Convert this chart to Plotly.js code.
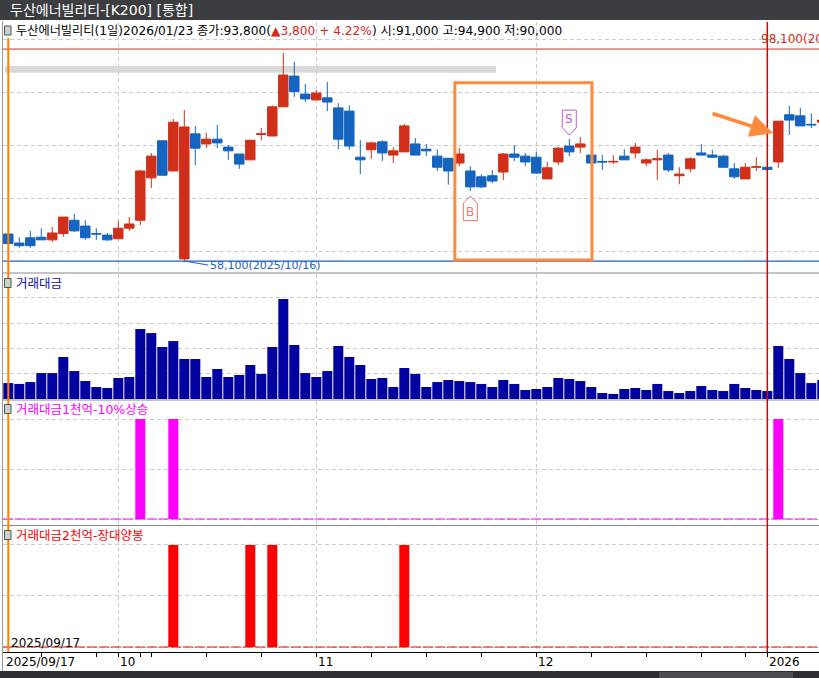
<!DOCTYPE html>
<html><head><meta charset="utf-8">
<script src="https://cdn.plot.ly/plotly-3.0.1.min.js"></script>
<style>html,body{margin:0;padding:0;background:#fff;overflow:hidden}#chart{width:819px;height:678px}</style>
</head><body><div id="chart"></div>
<script>
// ---- data ----
const dates = ['2025-09-17','2025-09-18','2025-09-19','2025-09-22','2025-09-23','2025-09-24','2025-09-25','2025-09-26','2025-09-29','2025-09-30',
'2025-10-01','2025-10-02','2025-10-10','2025-10-13','2025-10-14','2025-10-15','2025-10-16','2025-10-17','2025-10-20','2025-10-21',
'2025-10-22','2025-10-23','2025-10-24','2025-10-27','2025-10-28','2025-10-29','2025-10-30','2025-10-31','2025-11-03','2025-11-04',
'2025-11-05','2025-11-06','2025-11-07','2025-11-10','2025-11-11','2025-11-12','2025-11-13','2025-11-14','2025-11-17','2025-11-18',
'2025-11-19','2025-11-20','2025-11-21','2025-11-24','2025-11-25','2025-11-26','2025-11-27','2025-11-28','2025-12-01','2025-12-02',
'2025-12-03','2025-12-04','2025-12-05','2025-12-08','2025-12-09','2025-12-10','2025-12-11','2025-12-12','2025-12-15','2025-12-16',
'2025-12-17','2025-12-18','2025-12-19','2025-12-22','2025-12-23','2025-12-24','2025-12-26','2025-12-29','2025-12-30','2026-01-02',
'2026-01-05','2026-01-06','2026-01-07','2026-01-08','2026-01-09'];
const openP  = [63200,61500,62500,62600,62100,63300,65800,64700,63300,63000,62300,64300,65800,73800,80800,75100,58500,82100,80200,81100,
79600,78300,77200,82000,81700,87200,93000,89600,88500,88900,87000,86400,77700,79100,80600,78100,78700,80200,79200,77900,
77500,76600,75100,74000,74200,74900,78300,77900,77700,73600,76800,79800,79600,78100,76900,76800,77900,78500,76600,77200,
78100,74200,75500,78500,78100,77900,75500,73600,75800,75800,76800,85700,85500,83900,84300];
const highP  = [63200,62600,63800,64300,64500,66400,67000,65800,64300,63400,65700,66400,75300,78500,80800,84900,86600,83600,82300,83800,
80000,78300,80900,83200,87500,97400,95700,91500,90400,91900,87900,87500,80900,80600,80900,79600,84000,81300,80200,79200,
77500,79400,76000,74500,75300,78500,80000,78500,78700,76800,79600,81100,81500,78100,78100,78100,79200,80400,77500,79100,
78500,75800,77700,80200,79100,78100,76600,76600,77700,75800,84500,87400,87000,86000,84700];
const lowP   = [61400,60600,60600,62100,61700,62700,63600,62100,62100,61900,62300,63800,64900,71900,74300,75100,58100,76200,79400,79400,
77200,75500,77200,80900,81700,87200,89100,88100,88500,86400,79200,79100,74500,77400,77000,76600,78700,78100,77900,75100,
72500,76000,71300,71900,72800,73400,77000,76000,74500,73600,76200,77900,78500,76600,75300,76400,77200,77500,76000,73400,
74900,72600,74900,78100,77500,75800,73600,73600,75100,75400,75700,81900,83600,83200,84300];
const closeP = [61400,61000,61000,62100,63400,66400,63800,62500,63200,62100,64300,65100,75100,77900,74300,84300,83400,79400,81100,80400,
78900,76400,80900,82100,87200,93200,90100,88700,89800,88100,81100,79800,77200,80400,78500,78900,83600,78100,78900,75800,
75100,78300,72100,72100,73200,78300,77700,76800,74700,75700,79400,78700,80200,76600,76800,76900,77200,79600,77200,77400,
75300,74500,77400,78100,77700,75800,74000,75800,75900,75400,84500,84700,83600,83800,84700];
// 거래대금 (억원)
const tradeValue = [1260,1190,1340,2050,2050,3320,2210,1420,950,870,1660,1740,5530,5210,4110,4580,3160,3160,1740,2370,
1740,1900,2690,1980,4110,7900,4270,2050,1740,2210,4190,3320,2690,1580,1660,950,2450,1980,950,1340,
1500,1420,1340,1190,950,1500,1190,710,790,950,1660,1580,1420,950,470,400,790,870,710,1190,
630,470,630,1030,710,630,1190,870,710,630,4190,3160,2050,1260,1500];
const signal1Dates = ['2025-10-10','2025-10-15','2026-01-05'];               // 거래대금1천억-10%상승
const signal2Dates = ['2025-10-15','2025-10-24','2025-10-28','2025-11-13'];  // 거래대금2천억-장대양봉
const monthTickDates  = ['2025-10-01','2025-11-03','2025-12-01','2026-01-02'];
const monthTickLabels = ['10','11','12','2026'];
const weekTickDates = ['2025-09-22','2025-09-29','2025-10-10','2025-10-13','2025-10-20','2025-10-27','2025-11-10','2025-11-17',
'2025-11-24','2025-12-08','2025-12-15','2025-12-22','2025-12-29'];
const firstDateLabel = '2025/09/17';
const chartTitle = '두산에너빌리티-[K200] [통합]';
const headerMain = '두산에너빌리티(1일)2026/01/23 종가:93,800(';
const headerChange = '▲3,800 + 4.22%';
const headerRest = ') 시:91,000 고:94,900 저:90,000';
const highMark = 98100, highMarkLabel = '98,100(2026/01/22)';
const lowMarkDate = '2025-10-16';
const panelLabels = ['거래대금','거래대금1천억-10%상승','거래대금2천억-장대양봉'];
const buyDate = '2025-11-21', sellDate = '2025-12-04';

// ---- helpers ----
const xIdx = dates.map((d,i)=>i);
const xi = d => dates.indexOf(d);
const lowMark = Math.min(...lowP);
const lowIdx = xi(lowMarkDate);
const PY = pix => (652 - pix)/630;
const PX = pix => (pix - 3)/816;
const RED='#D0301A', BLUE='#1464C0', GRID='#cccccc';
const FONT = 'DejaVu Sans, Noto Sans CJK KR, sans-serif';

const data = [
 {type:'candlestick', x:xIdx, open:openP, high:highP, low:lowP, close:closeP, xaxis:'x', yaxis:'y',
  increasing:{line:{color:RED,width:1}, fillcolor:RED}, decreasing:{line:{color:BLUE,width:1}, fillcolor:BLUE},
  whiskerwidth:0, hoverinfo:'skip', showlegend:false},
 {type:'bar', x:xIdx, y:tradeValue, xaxis:'x', yaxis:'y2', marker:{color:'#0202A0', line:{width:0}}, hoverinfo:'skip', showlegend:false},
 {type:'bar', x:xIdx, y:dates.map(d=>signal1Dates.includes(d)?1:0), xaxis:'x', yaxis:'y3', marker:{color:'#FF00FF', line:{width:0}}, hoverinfo:'skip', showlegend:false},
 {type:'bar', x:xIdx, y:dates.map(d=>signal2Dates.includes(d)?1:0), xaxis:'x', yaxis:'y4', marker:{color:'#FF0000', line:{width:0}}, hoverinfo:'skip', showlegend:false}
];

const yCommon = {showticklabels:false, ticks:'', showgrid:true, gridcolor:GRID, griddash:'4px,3px', gridwidth:1, zeroline:false, fixedrange:true, anchor:'x'};

const shapes = [
 // title bar
 {type:'rect', xref:'paper', yref:'paper', x0:PX(0), x1:PX(819), y0:PY(20), y1:PY(0), fillcolor:'#3c3d40', line:{width:0}},
 // bottom scrollbar
 {type:'rect', xref:'paper', yref:'paper', x0:PX(0), x1:PX(819), y0:PY(678), y1:PY(671), fillcolor:'#2d2f33', line:{width:0}},
 {type:'rect', xref:'paper', yref:'paper', x0:PX(659), x1:PX(793), y0:PY(678), y1:PY(672), fillcolor:'#4b4d52', line:{width:0}},
 // panel borders
 {type:'line', xref:'paper', yref:'paper', x0:PX(2.5), x1:PX(2.5), y0:PY(671), y1:PY(21), line:{color:'#9a9a9a', width:1}},
 {type:'line', xref:'paper', yref:'paper', x0:PX(2.5), x1:1, y0:PY(273), y1:PY(273), line:{color:'#888', width:1}},
 {type:'line', xref:'paper', yref:'paper', x0:PX(2.5), x1:1, y0:PY(400), y1:PY(400), line:{color:'#888', width:1}},
 {type:'line', xref:'paper', yref:'paper', x0:PX(2.5), x1:1, y0:PY(525.5), y1:PY(525.5), line:{color:'#888', width:1}},
 // gray band drawing
 {type:'rect', xref:'x', yref:'y', x0:-0.3, x1:44.34, y0:93640, y1:94900, fillcolor:'#d9d9d9', line:{width:0}, layer:'below'},
 // high / low lines
 {type:'line', xref:'paper', yref:'y', x0:0, x1:1, y0:highMark, y1:highMark, line:{color:'#C8301E', width:1}},
 {type:'line', xref:'paper', yref:'y', x0:0, x1:1, y0:lowMark, y1:lowMark, line:{color:'#1F5FBF', width:1.3}},
 // baselines of signal panels
 {type:'line', xref:'paper', yref:'y3', x0:0, x1:1, y0:0, y1:0, line:{color:'#FF00FF', width:1.2, dash:'10px,2px'}},
 {type:'line', xref:'paper', yref:'y4', x0:0, x1:1, y0:0, y1:0, line:{color:'#FF0000', width:1.2, dash:'10px,2px'}},
 // vertical markers
 {type:'line', xref:'x', yref:'paper', x0:0, x1:0, y0:PY(652), y1:PY(38), line:{color:'#FF8000', width:2}},
 {type:'line', xref:'x', yref:'paper', x0:xi('2026-01-02'), x1:xi('2026-01-02'), y0:PY(652), y1:PY(22), line:{color:'#E00000', width:1.5}},
 // orange box
 {type:'rect', xref:'x', yref:'y', x0:40.6, x1:53.06, y0:58300, y1:91750, line:{color:'#FF8A3D', width:3}, fillcolor:'rgba(0,0,0,0)'},
 // B / S markers
 {type:'path', xref:'x', yref:'y', xsizemode:'pixel', ysizemode:'pixel', xanchor:xi(buyDate), yanchor:lowP[xi(buyDate)],
  path:'M0,-5 L7,-12 L7,-29.5 L-7,-29.5 L-7,-12 Z', line:{color:'#E8735F', width:1}, fillcolor:'rgba(255,255,255,0)'},
 {type:'path', xref:'x', yref:'y', xsizemode:'pixel', ysizemode:'pixel', xanchor:xi(sellDate), yanchor:highP[xi(sellDate)],
  path:'M0,4 L7,11.5 L7,29 L-7,29 L-7,11.5 Z', line:{color:'#C25BD6', width:1}, fillcolor:'rgba(255,255,255,0)'},
 // legend icons
 ...[30.5,283,409,535].map(cy=>({type:'rect', xref:'paper', yref:'paper', x0:PX(4.5), x1:PX(11), y0:PY(cy+4.5), y1:PY(cy-4.5),
  fillcolor:'#cfcfcf', line:{color:'#3f5f45', width:1}}))
];

const annotations = [
 {xref:'paper', yref:'paper', x:PX(8), y:PY(10), xanchor:'left', yanchor:'middle', showarrow:false,
  text:chartTitle, font:{family:FONT, size:14, color:'#ffffff'}},
 {xref:'paper', yref:'paper', x:PX(14), y:PY(31), xanchor:'left', yanchor:'middle', showarrow:false,
  text:headerMain + '<span style="color:#D9261C">' + headerChange + '</span>' + headerRest, font:{family:FONT, size:12.2, color:'#000'}},
 {xref:'paper', yref:'paper', x:PX(14), y:PY(283.5), xanchor:'left', yanchor:'middle', showarrow:false,
  text:panelLabels[0], font:{family:FONT, size:12.5, color:'#1010A0'}},
 {xref:'paper', yref:'paper', x:PX(14), y:PY(409.5), xanchor:'left', yanchor:'middle', showarrow:false,
  text:panelLabels[1], font:{family:FONT, size:12.5, color:'#FF00FF'}},
 {xref:'paper', yref:'paper', x:PX(14), y:PY(535), xanchor:'left', yanchor:'middle', showarrow:false,
  text:panelLabels[2], font:{family:FONT, size:12.5, color:'#FF0000'}},
 {xref:'x', yref:'y', x:68.25, y:highMark, xanchor:'left', yanchor:'bottom', yshift:1, showarrow:false,
  text:highMarkLabel, font:{family:FONT, size:12, color:'#D0301A'}},
 {xref:'x', yref:'y', x:lowIdx, y:lowMark, xanchor:'left', yanchor:'middle', showarrow:true, ax:24, ay:4,
  arrowhead:0, arrowwidth:1, arrowcolor:'#1F5FBF', standoff:0, startstandoff:0,
  text:lowMark.toLocaleString('en-US') + '(' + lowMarkDate.replace(/-/g,'/') + ')', font:{family:FONT, size:11, color:'#1F5FBF'}},
 {xref:'x', yref:'y', x:xi(buyDate), y:lowP[xi(buyDate)], yshift:-21, showarrow:false, text:'B', font:{family:FONT, size:12, color:'#F07868'}},
 {xref:'x', yref:'y', x:xi(sellDate), y:highP[xi(sellDate)], yshift:20, showarrow:false, text:'S', font:{family:FONT, size:12, color:'#C25BD6'}},
 {xref:'x', yref:'y', x:69.52, y:82260, ax:-62, ay:-20, text:'', showarrow:true, arrowhead:2, arrowsize:1.3, arrowwidth:3.5, arrowcolor:'#FF8A3D', standoff:0},
 {xref:'paper', yref:'paper', x:PX(9), y:PY(643), xanchor:'left', yanchor:'middle', showarrow:false,
  text:firstDateLabel, font:{family:FONT, size:12, color:'#000'}},
 {xref:'paper', yref:'paper', x:PX(4), y:PY(662), xanchor:'left', yanchor:'middle', showarrow:false,
  text:firstDateLabel, font:{family:FONT, size:12, color:'#000'}},
 ...monthTickDates.map((d,k)=>({xref:'x', yref:'paper', x:xi(d), y:PY(662), xanchor:'left', yanchor:'middle', showarrow:false,
  text:monthTickLabels[k], font:{family:FONT, size:12, color:'#000'}}))
];

const layout = {
 width:819, height:678, margin:{l:3, r:0, t:22, b:26, pad:0},
 paper_bgcolor:'#ffffff', plot_bgcolor:'#ffffff', font:{family:FONT, size:12, color:'#000'},
 showlegend:false, hovermode:false, bargap:0.09, boxgap:0.14, boxgroupgap:0,
 xaxis:{range:[-0.482,73.7], anchor:'y4', showline:true, linecolor:'#000', linewidth:1, mirror:false,
  ticks:'outside', ticklen:4, tickcolor:'#000', tickwidth:1, tickvals:monthTickDates.map(xi), showticklabels:false,
  showgrid:true, gridcolor:GRID, griddash:'4px,3px', gridwidth:1, zeroline:false, fixedrange:true, rangeslider:{visible:false},
  minor:{tickvals:weekTickDates.map(xi), ticks:'outside', ticklen:4, tickcolor:'#000', tickwidth:1, showgrid:false}},
 yaxis: Object.assign({}, yCommon, {domain:[PY(272),1], range:[56038,103208], tick0:0, dtick:10000}),
 yaxis2:Object.assign({}, yCommon, {domain:[PY(399),PY(274)], range:[0,9881], tick0:0, dtick:2000}),
 yaxis3:Object.assign({}, yCommon, {domain:[PY(525),PY(401)], range:[-0.06,1.18], tick0:0, dtick:0.5}),
 yaxis4:Object.assign({}, yCommon, {domain:[0,PY(526)], range:[-0.049,1.186], tick0:0, dtick:0.5}),
 shapes:shapes, annotations:annotations
};

Plotly.newPlot('chart', data, layout, {staticPlot:true, displayModeBar:false});
</script></body></html>
